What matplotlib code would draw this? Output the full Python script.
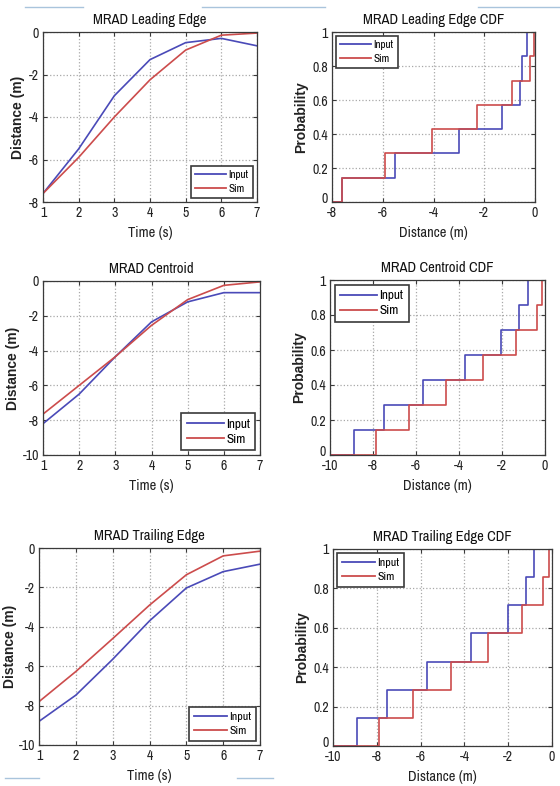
import numpy as np
import matplotlib
matplotlib.use("Agg")
import matplotlib.pyplot as plt
import matplotlib.transforms as mtransforms
from matplotlib import font_manager
from matplotlib.lines import Line2D

names = sorted({f.name for f in font_manager.fontManager.ttflist})
narrow = [n for n in names if "Narrow" in n or "Condensed" in n]
NARROW = narrow[0] if narrow else "Liberation Sans"
plt.rcParams["font.family"] = [NARROW, "Liberation Sans", "DejaVu Sans"]
plt.rcParams["axes.unicode_minus"] = False

time = [1, 2, 3, 4, 5, 6, 7]

lead_input = [-7.6, -5.5, -3.0, -1.3, -0.5, -0.3, -0.65]
lead_sim = [-7.6, -5.9, -4.0, -2.25, -0.85, -0.15, -0.05]

cent_input = [-8.2, -6.5, -4.35, -2.35, -1.2, -0.67, -0.67]
cent_sim = [-7.65, -6.0, -4.35, -2.55, -1.07, -0.25, -0.05]

trail_input = [-8.8, -7.47, -5.65, -3.7, -2.03, -1.2, -0.82]
trail_sim = [-7.8, -6.27, -4.6, -2.9, -1.36, -0.4, -0.16]

# CDF panels as drawn (centroid CDF in the source shows the trailing-edge samples)
lead_cdf_input = [-7.6, -5.5, -3.0, -1.3, -0.6, -0.5, -0.3]
lead_cdf_sim = [-7.6, -5.9, -4.05, -2.3, -0.9, -0.2, -0.05]
cent_cdf_input = [-8.88, -7.49, -5.66, -3.72, -2.05, -1.21, -0.81]
cent_cdf_sim = [-7.86, -6.31, -4.6, -2.9, -1.35, -0.39, -0.16]
trail_cdf_input = [-8.9, -7.55, -5.72, -3.69, -2.02, -1.19, -0.81]
trail_cdf_sim = [-7.9, -6.36, -4.6, -2.9, -1.37, -0.42, -0.15]

BLUE = "#4a4ab8"
RED = "#cc4c4c"
W, H = 560, 786

fig = plt.figure(figsize=(W / 100, H / 100), dpi=100)
fig.patch.set_facecolor("white")


def box(x0, y0, x1, y1):
    return fig.add_axes([x0 / W, 1 - y1 / H, (x1 - x0) / W, (y1 - y0) / H])


def style(ax, title, xlabel, ylabel, ypad=3):
    ax.grid(True, linestyle=":", color="#a8a8a8", linewidth=0.9)
    for s in ax.spines.values():
        s.set_color("#3a3a3a")
        s.set_linewidth(0.9)
    ax.tick_params(direction="in", length=3, labelsize=10, colors="#3a3a3a",
                   labelcolor="#222222", top=True, right=True, pad=3)
    ax.set_title(title, fontsize=10.5, fontweight="bold", pad=6, color="#111111")
    ax.set_xlabel(xlabel, fontsize=10.5, labelpad=4, color="#222222")
    ax.set_ylabel(ylabel, fontsize=10, fontweight="bold", family="Liberation Sans",
                  labelpad=ypad, color="#222222")


def lift_bottom_label(ax):
    # bottom y tick label sits a little above the corner, as in the source
    fig.canvas.draw()
    lab = ax.get_yticklabels()[0]
    lab.set_transform(lab.get_transform() +
                      mtransforms.ScaledTranslation(0, 3 / 72, fig.dpi_scale_trans))


def legend(ax, loc, fs):
    handles = [Line2D([], [], color=BLUE, lw=1.3), Line2D([], [], color=RED, lw=1.3)]
    lg = ax.legend(handles, ["Input", "Sim"], loc=loc, fontsize=fs, fancybox=False,
                   framealpha=1, edgecolor="#3a3a3a", handlelength=2.8,
                   handletextpad=0.2, borderaxespad=0.35, labelspacing=0.3)
    lg.get_frame().set_linewidth(1.2)


def lineplot(ax, yi, ys, ylim, yticks):
    ax.plot(time, yi, color=BLUE, lw=1.2)
    ax.plot(time, ys, color=RED, lw=1.2)
    ax.set_xlim(1, 7)
    ax.set_ylim(*ylim)
    ax.set_xticks(time)
    ax.set_yticks(yticks)


def cdfplot(ax, vals, color, lo, hi):
    v = np.sort(vals)
    n = len(v)
    x = np.concatenate([[lo], v, [hi]])
    y = np.concatenate([[0], np.arange(1, n + 1) / n, [1]])
    ax.step(x, y, where="post", color=color, lw=1.2)


def cdfpanel(ax, vi, vs, lo, xticks):
    cdfplot(ax, vi, BLUE, lo, 0)
    cdfplot(ax, vs, RED, lo, 0)
    ax.set_xlim(lo, 0)
    ax.set_ylim(0, 1)
    ax.set_xticks(xticks)
    ax.set_yticks([0, 0.2, 0.4, 0.6, 0.8, 1])
    ax.set_yticklabels(["0", "0.2", "0.4", "0.6", "0.8", "1"])


# row 1
ax1 = box(43, 32, 257, 202)
lineplot(ax1, lead_input, lead_sim, (-8, 0), [-8, -6, -4, -2, 0])
style(ax1, "MRAD Leading Edge", "Time (s)", "Distance (m)")
legend(ax1, "lower right", 8)

ax2 = box(332, 32, 535, 202)
cdfpanel(ax2, lead_cdf_input, lead_cdf_sim, -8, [-8, -6, -4, -2, 0])
style(ax2, "MRAD Leading Edge CDF", "Distance (m)", "Probability")
legend(ax2, "upper left", 8)

# row 2
ax3 = box(43, 281, 260, 455)
lineplot(ax3, cent_input, cent_sim, (-10, 0), [-10, -8, -6, -4, -2, 0])
style(ax3, "MRAD Centroid", "Time (s)", "Distance (m)", ypad=2)
legend(ax3, "lower right", 9.5)

ax4 = box(330, 280, 545, 455)
cdfpanel(ax4, cent_cdf_input, cent_cdf_sim, -10, [-10, -8, -6, -4, -2, 0])
style(ax4, "MRAD Centroid CDF", "Distance (m)", "Probability")
legend(ax4, "upper left", 9.5)

# row 3
ax5 = box(39, 548, 260, 745)
lineplot(ax5, trail_input, trail_sim, (-10, 0), [-10, -8, -6, -4, -2, 0])
style(ax5, "MRAD Trailing Edge", "Time (s)", "Distance (m)", ypad=1)
legend(ax5, "lower right", 8.5)

ax6 = box(333, 549, 552, 746)
cdfpanel(ax6, trail_cdf_input, trail_cdf_sim, -10, [-10, -8, -6, -4, -2, 0])
style(ax6, "MRAD Trailing Edge CDF", "Distance (m)", "Probability")
legend(ax6, "upper left", 8.5)

for ax in (ax2, ax4, ax6):
    lift_bottom_label(ax)

# faint page rules from the source document
for (xa, xb, yy) in [(25, 83, 7), (202, 325, 7), (478, 560, 7), (5, 39, 778), (237, 273, 778)]:
    fig.add_artist(Line2D([xa / W, xb / W], [1 - yy / H] * 2, color="#a9c4dc", lw=1.0))

fig.savefig("out.png", dpi=100)
